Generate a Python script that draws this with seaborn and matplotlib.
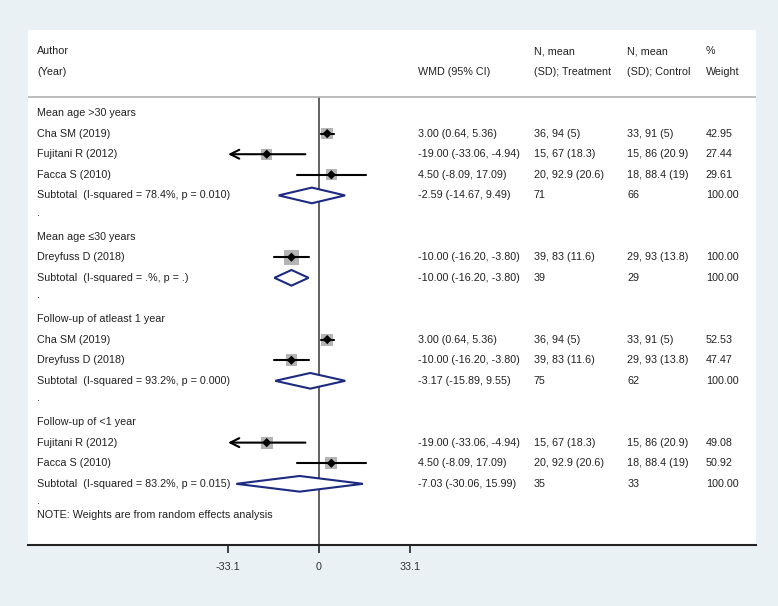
import numpy as np
import pandas as pd
import matplotlib
matplotlib.use("Agg")
import matplotlib.pyplot as plt
import matplotlib.transforms as mtransforms
import seaborn as sns

# rows of the forest plot: h = group heading, s = study, d = subtotal, b = blank
row_labels = [
    "Mean age >30 years", "Cha SM (2019)", "Fujitani R (2012)", "Facca S (2010)",
    "Subtotal  (I-squared = 78.4%, p = 0.010)", ".",
    "Mean age \u226430 years", "Dreyfuss D (2018)",
    "Subtotal  (I-squared = .%, p = .)", ".",
    "Follow-up of atleast 1 year", "Cha SM (2019)", "Dreyfuss D (2018)",
    "Subtotal  (I-squared = 93.2%, p = 0.000)", ".",
    "Follow-up of <1 year", "Fujitani R (2012)", "Facca S (2010)",
    "Subtotal  (I-squared = 83.2%, p = 0.015)", ".",
]
row_kind = ["h", "s", "s", "s", "d", "b", "h", "s", "d", "b",
            "h", "s", "s", "d", "b", "h", "s", "s", "d", "b"]
nan = np.nan
est = [nan, 3.00, -19.00, 4.50, -2.59, nan, nan, -10.00, -10.00, nan,
       nan, 3.00, -10.00, -3.17, nan, nan, -19.00, 4.50, -7.03, nan]
lo = [nan, 0.64, -33.06, -8.09, -14.67, nan, nan, -16.20, -16.20, nan,
      nan, 0.64, -16.20, -15.89, nan, nan, -33.06, -8.09, -30.06, nan]
hi = [nan, 5.36, -4.94, 17.09, 9.49, nan, nan, -3.80, -3.80, nan,
      nan, 5.36, -3.80, 9.55, nan, nan, -4.94, 17.09, 15.99, nan]
treat = ["", "36, 94 (5)", "15, 67 (18.3)", "20, 92.9 (20.6)", "71", "",
         "", "39, 83 (11.6)", "39", "",
         "", "36, 94 (5)", "39, 83 (11.6)", "75", "",
         "", "15, 67 (18.3)", "20, 92.9 (20.6)", "35", ""]
ctrl = ["", "33, 91 (5)", "15, 86 (20.9)", "18, 88.4 (19)", "66", "",
        "", "29, 93 (13.8)", "29", "",
        "", "33, 91 (5)", "29, 93 (13.8)", "62", "",
        "", "15, 86 (20.9)", "18, 88.4 (19)", "33", ""]
weight = [nan, 42.95, 27.44, 29.61, 100.00, nan, nan, 100.00, 100.00, nan,
          nan, 52.53, 47.47, 100.00, nan, nan, 49.08, 50.92, 100.00, nan]

x_ticks = [-33.1, 0, 33.1]
x_min_shown = -33.06
note = "NOTE: Weights are from random effects analysis"

df = pd.DataFrame({"label": row_labels, "kind": row_kind, "est": est,
                   "lo": lo, "hi": hi, "treat": treat, "ctrl": ctrl,
                   "weight": weight})
df["row"] = np.arange(len(df))

sns.set_theme(style="white")
plt.rcParams["font.family"] = ["Liberation Sans", "DejaVu Sans"]

bg = "#e9f1f4"
navy = "#1c2a80"
fs = 7.75

fig = plt.figure(figsize=(7.78, 6.06), dpi=100, facecolor=bg)
ax = fig.add_axes([28 / 778, 61 / 606, 728 / 778, 515 / 606])
ax.set_facecolor("white")

ax.set_xlim(-105.8, 158.9)
ax.set_ylim(20.97, -4.03)

for s in ["top", "left", "right"]:
    ax.spines[s].set_visible(False)
ax.spines["bottom"].set_color("#222222")
ax.spines["bottom"].set_linewidth(1.5)
ax.set_xticks(x_ticks)
ax.set_xticklabels(["-33.1", "0", "33.1"])
ax.tick_params(axis="x", direction="out", length=6, width=1.3, color="#333333",
               labelsize=fs, labelcolor="#333333", pad=6, bottom=True)
ax.set_yticks([])

sep = -0.78
ax.axhline(sep, color="#b0b0b0", lw=1.2)
ax.vlines(0, sep, 20.97, color="#555555", lw=1.3, zorder=1)

# studies
studies = df[df["kind"] == "s"]
for _, r in studies.iterrows():
    if r["lo"] <= x_min_shown:
        ax.annotate("", xy=(r["lo"], r["row"]), xytext=(r["hi"], r["row"]),
                    arrowprops=dict(arrowstyle="->", lw=1.5, color="black",
                                    mutation_scale=16, shrinkA=0, shrinkB=0),
                    zorder=3)
    else:
        ax.plot([r["lo"], r["hi"]], [r["row"], r["row"]], color="black",
                lw=1.5, zorder=3)
side = 9 + 6 * studies["weight"] / 100
ax.scatter(studies["est"], studies["row"], s=(side * 0.72) ** 2, marker="s",
           color="#b4b4b4", edgecolor="none", zorder=2)
sns.scatterplot(data=studies, x="est", y="row", marker="D", color="black",
                s=22, edgecolor="none", ax=ax, zorder=4)

# subtotal diamonds
h = 0.38
for _, r in df[df["kind"] == "d"].iterrows():
    y = r["row"]
    ax.fill([r["lo"], r["est"], r["hi"], r["est"]], [y, y - h, y, y + h],
            facecolor="white", edgecolor=navy, lw=1.5, zorder=3)

ax.set_xlabel("")
ax.set_ylabel("")

# text columns
tr = mtransforms.blended_transform_factory(ax.transAxes, ax.transData)
cols = {"label": 0.0124, "wmd": 0.536, "treat": 0.695, "ctrl": 0.823, "w": 0.931}
txt = dict(transform=tr, fontsize=fs, color="#222222", va="center", ha="left")

ax.text(cols["label"], -3, "Author", **txt)
ax.text(cols["label"], -2, "(Year)", **txt)
ax.text(cols["wmd"], -2, "WMD (95% CI)", **txt)
ax.text(cols["treat"], -3, "N, mean", **txt)
ax.text(cols["treat"], -2, "(SD); Treatment", **txt)
ax.text(cols["ctrl"], -3, "N, mean", **txt)
ax.text(cols["ctrl"], -2, "(SD); Control", **txt)
ax.text(cols["w"], -3, "%", **txt)
ax.text(cols["w"], -2, "Weight", **txt)

for _, r in df.iterrows():
    y = r["row"]
    if r["kind"] == "b":
        ax.text(cols["label"], y - 0.15, r["label"], **txt)
        continue
    ax.text(cols["label"], y, r["label"], **txt)
    if r["kind"] in ("s", "d"):
        ax.text(cols["wmd"], y, f"{r['est']:.2f} ({r['lo']:.2f}, {r['hi']:.2f})", **txt)
        ax.text(cols["treat"], y, r["treat"], **txt)
        ax.text(cols["ctrl"], y, r["ctrl"], **txt)
        ax.text(cols["w"], y, f"{r['weight']:.2f}", **txt)

ax.text(cols["label"], 19.5, note, **txt)

fig.savefig("out.png", dpi=100, facecolor=bg)
